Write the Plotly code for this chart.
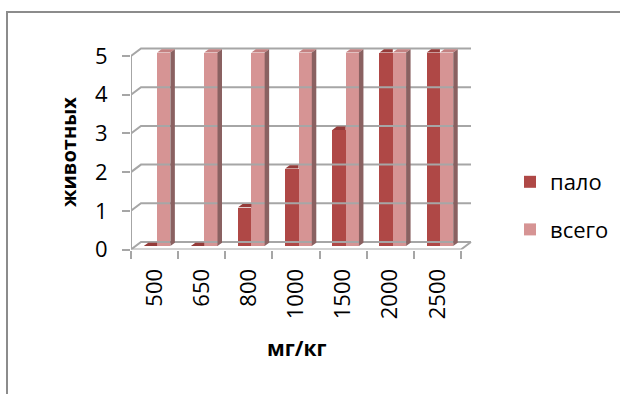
import plotly.graph_objects as go

# Dose groups, animals that died and total animals per group
doses = ["500", "650", "800", "1000", "1500", "2000", "2500"]
died = [0, 0, 1, 2, 3, 5, 5]
total = [5, 5, 5, 5, 5, 5, 5]
y_ticks = [0, 1, 2, 3, 4, 5]
series_names = ["пало", "всего"]

W, H = 620, 394
FONT = "Open Sans"

# front plane of the pseudo-3D box, in pixels
X0_PX, X1_PX = 131, 461
Y0_PX, YTOP_PX = 249.5, 56
UX = (X1_PX - X0_PX) / len(doses)
UY = (Y0_PX - YTOP_PX) / max(y_ticks)

XMIN = -0.5
XEND = len(doses) - 0.5
XMAX = XEND + 0.35
YMAX = 5.45


def dx(px):
    return px / UX


def dy(px):
    return px / UY


WALL_DX, WALL_DY = dx(10), dy(7.5)      # depth of the back wall
BAR_DX, BAR_DY = dx(2.5), dy(3.5)       # bars sit slightly behind the front plane
DEP_DX, DEP_DY = dx(4.5), dy(3.3)       # visible depth of each column
BAR_W = dx(13.3)

GRID = "#A6A6A6"
C_DIED, C_DIED_TOP = "#AF4846", "#953B39"
C_TOT, C_TOT_TOP = "#D69494", "#C48282"
C_SIDE = "#8A6161"

fig = go.Figure()

# back wall, side wall and floor lines
gx, gy = [], []
for v in y_ticks:
    gx += [XMIN, XMIN + WALL_DX, XEND + WALL_DX, None]
    gy += [v, v + WALL_DY, v + WALL_DY, None]
gx += [XMIN, XEND, XEND + WALL_DX, None, XMIN, XMIN]
gy += [0, 0, WALL_DY, None, 0, max(y_ticks)]
fig.add_trace(go.Scatter(x=gx, y=gy, mode="lines", line=dict(color=GRID, width=2),
                         hoverinfo="skip", showlegend=False))

# front faces of the columns
cats = list(range(len(doses)))
fig.add_trace(go.Bar(x=cats, y=died, base=BAR_DY, width=BAR_W, offset=BAR_DX - BAR_W,
                     marker=dict(color=C_DIED, line=dict(width=0)),
                     name=series_names[0], legendgroup="a"))
fig.add_trace(go.Bar(x=cats, y=total, base=BAR_DY, width=BAR_W, offset=BAR_DX,
                     marker=dict(color=C_TOT, line=dict(width=0)),
                     name=series_names[1], legendgroup="b"))

# top and side faces
top_d_x, top_d_y, top_t_x, top_t_y, side_x, side_y = [], [], [], [], [], []
for i in cats:
    b = BAR_DY
    # died column
    x0, x1, t = i + BAR_DX - BAR_W, i + BAR_DX, b + died[i]
    if total[i] >= died[i]:
        top_d_x += [x0, x1, x1, x0 + DEP_DX, x0, None]
        top_d_y += [t, t, t + DEP_DY, t + DEP_DY, t, None]
    else:
        top_d_x += [x0, x1, x1 + DEP_DX, x0 + DEP_DX, x0, None]
        top_d_y += [t, t, t + DEP_DY, t + DEP_DY, t, None]
        side_x += [x1, x1, x1 + DEP_DX, x1 + DEP_DX, x1, None]
        side_y += [b, t, t + DEP_DY, b + DEP_DY, b, None]
    # total column
    x0, x1, t = i + BAR_DX, i + BAR_DX + BAR_W, b + total[i]
    top_t_x += [x0, x1, x1 + DEP_DX, x0 + DEP_DX, x0, None]
    top_t_y += [t, t, t + DEP_DY, t + DEP_DY, t, None]
    side_x += [x1, x1, x1 + DEP_DX, x1 + DEP_DX, x1, None]
    side_y += [b, t, t + DEP_DY, b + DEP_DY, b, None]

for xs, ys, col in [(top_d_x, top_d_y, C_DIED_TOP), (top_t_x, top_t_y, C_TOT_TOP),
                    (side_x, side_y, C_SIDE)]:
    fig.add_trace(go.Scatter(x=xs, y=ys, mode="lines", fill="toself", fillcolor=col,
                             line=dict(width=0, color=col), hoverinfo="skip",
                             showlegend=False))

x_dom = [X0_PX / W, (X0_PX + (XMAX - XMIN) * UX) / W]
y_dom = [1 - Y0_PX / H, 1 - (Y0_PX - YMAX * UY) / H]

fig.update_layout(
    width=W, height=H,
    margin=dict(l=0, r=0, t=0, b=0),
    paper_bgcolor="white", plot_bgcolor="rgba(0,0,0,0)",
    font=dict(family=FONT, size=22, color="black"),
    bargap=0, barmode="overlay",
    xaxis=dict(domain=x_dom, range=[XMIN, XMAX], tickvals=cats, ticktext=doses,
               tickangle=-90, ticks="", showgrid=False, zeroline=False, showline=False,
               ticklabelstandoff=14, automargin=False,
               minor=dict(tickvals=[i - 0.5 for i in range(len(doses) + 1)], ticks="outside",
                          ticklen=8, tickwidth=2, tickcolor=GRID, showgrid=False)),
    yaxis=dict(domain=y_dom, range=[0, YMAX], tickvals=y_ticks, ticks="outside",
               ticklen=8, tickwidth=2, tickcolor=GRID, showgrid=False, zeroline=False,
               showline=False, ticklabelstandoff=10, automargin=False),
    legend=dict(x=510 / W, y=1 - 161 / H, xanchor="left", yanchor="top",
                font=dict(size=22), tracegroupgap=16, traceorder="grouped",
                bgcolor="rgba(0,0,0,0)"),
    showlegend=True,
    annotations=[
        dict(text="<b>животных</b>", textangle=-90, x=68 / W, y=1 - 152 / H,
             xanchor="center", yanchor="middle",
             xref="paper", yref="paper", showarrow=False, font=dict(size=20)),
        dict(text="<b>мг/кг</b>", x=296 / W, y=1 - 348 / H, xanchor="center",
             yanchor="middle", xref="paper", yref="paper",
             showarrow=False, font=dict(size=21)),
    ],
    shapes=[dict(type="rect", xref="paper", yref="paper", x0=7 / W, y0=1 - 12 / H,
                 x1=1.05, y1=-0.05, line=dict(color="#8C8C8C", width=2))],
)

fig.write_html("out.html")
